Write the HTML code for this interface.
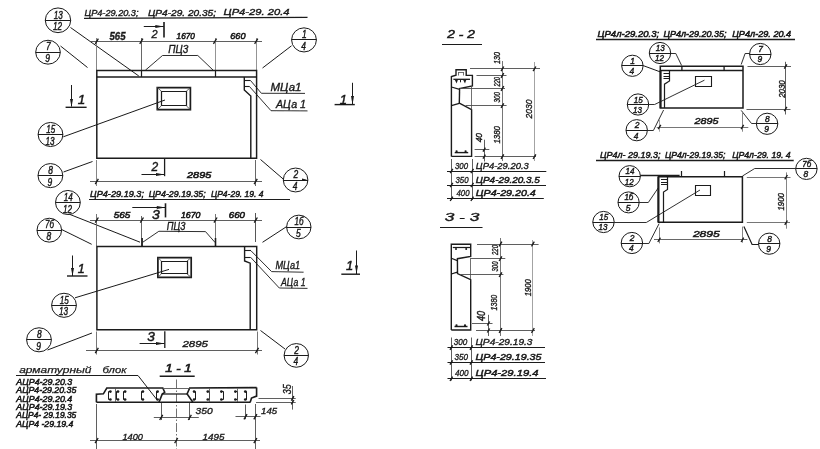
<!DOCTYPE html>
<html><head><meta charset="utf-8"><title>drawing</title>
<style>
html,body{margin:0;padding:0;background:#fff;}
svg{display:block;font-family:"Liberation Sans",sans-serif;font-style:italic;}
</style></head><body>
<svg width="820" height="449" viewBox="0 0 820 449">
<defs><filter id="b" x="0" y="0" width="820" height="449" filterUnits="userSpaceOnUse"><feGaussianBlur stdDeviation="0.45"/></filter></defs>
<rect width="820" height="449" fill="#fff"/>
<g filter="url(#b)">
<text x="84.5" y="16" font-size="8.3" text-anchor="start" font-weight="normal" fill="#1a1a1a" stroke="#1a1a1a" stroke-width="0.35" textLength="54" lengthAdjust="spacingAndGlyphs">ЦР4-29.20.3;</text>
<text x="148" y="15.5" font-size="9.2" text-anchor="start" font-weight="normal" fill="#1a1a1a" stroke="#1a1a1a" stroke-width="0.4" textLength="68" lengthAdjust="spacingAndGlyphs">ЦР4-29. 20.35;</text>
<text x="223.5" y="15.1" font-size="9.4" text-anchor="start" font-weight="normal" fill="#1a1a1a" stroke="#1a1a1a" stroke-width="0.4" textLength="66" lengthAdjust="spacingAndGlyphs">ЦР4-29. 20.4</text>
<line x1="84" y1="18.4" x2="307.5" y2="17.3" stroke="#1a1a1a" stroke-width="1.2"/>
<ellipse cx="58" cy="20.3" rx="12.700000000000001" ry="12.350000000000001" fill="none" stroke="#1a1a1a" stroke-width="1.0"/>
<line x1="45.2" y1="20.5" x2="70.8" y2="20.5" stroke="#1a1a1a" stroke-width="1.0"/>
<text x="53.8" y="18.5" font-size="11.2" text-anchor="start" font-weight="normal" fill="#1a1a1a" stroke="#1a1a1a" stroke-width="0.45" textLength="9.0" lengthAdjust="spacingAndGlyphs">13</text>
<text x="53.0" y="30.3" font-size="11.2" text-anchor="start" font-weight="normal" fill="#1a1a1a" stroke="#1a1a1a" stroke-width="0.45" textLength="9.0" lengthAdjust="spacingAndGlyphs">12</text>
<ellipse cx="48" cy="52.2" rx="12.3" ry="11.950000000000001" fill="none" stroke="#1a1a1a" stroke-width="1.0"/>
<line x1="35.6" y1="52.5" x2="60.4" y2="52.5" stroke="#1a1a1a" stroke-width="1.0"/>
<text x="45.949999999999996" y="50.400000000000006" font-size="11.2" text-anchor="start" font-weight="normal" fill="#1a1a1a" stroke="#1a1a1a" stroke-width="0.45" textLength="4.7" lengthAdjust="spacingAndGlyphs">7</text>
<text x="45.15" y="62.2" font-size="11.2" text-anchor="start" font-weight="normal" fill="#1a1a1a" stroke="#1a1a1a" stroke-width="0.45" textLength="4.7" lengthAdjust="spacingAndGlyphs">9</text>
<ellipse cx="304" cy="39.9" rx="12.4" ry="12.05" fill="none" stroke="#1a1a1a" stroke-width="1.0"/>
<line x1="291.5" y1="39.5" x2="316.5" y2="39.5" stroke="#1a1a1a" stroke-width="1.0"/>
<text x="301.95" y="38.1" font-size="11.2" text-anchor="start" font-weight="normal" fill="#1a1a1a" stroke="#1a1a1a" stroke-width="0.45" textLength="4.7" lengthAdjust="spacingAndGlyphs">1</text>
<text x="301.15" y="49.9" font-size="11.2" text-anchor="start" font-weight="normal" fill="#1a1a1a" stroke="#1a1a1a" stroke-width="0.45" textLength="4.7" lengthAdjust="spacingAndGlyphs">4</text>
<ellipse cx="50.5" cy="134.5" rx="12.4" ry="12.05" fill="none" stroke="#1a1a1a" stroke-width="1.0"/>
<line x1="38.0" y1="134.5" x2="63.0" y2="134.5" stroke="#1a1a1a" stroke-width="1.0"/>
<text x="46.3" y="132.7" font-size="11.2" text-anchor="start" font-weight="normal" fill="#1a1a1a" stroke="#1a1a1a" stroke-width="0.45" textLength="9.0" lengthAdjust="spacingAndGlyphs">15</text>
<text x="45.5" y="144.5" font-size="11.2" text-anchor="start" font-weight="normal" fill="#1a1a1a" stroke="#1a1a1a" stroke-width="0.45" textLength="9.0" lengthAdjust="spacingAndGlyphs">13</text>
<ellipse cx="50.4" cy="175.6" rx="12.4" ry="12.05" fill="none" stroke="#1a1a1a" stroke-width="1.0"/>
<line x1="37.9" y1="175.5" x2="62.9" y2="175.5" stroke="#1a1a1a" stroke-width="1.0"/>
<text x="48.349999999999994" y="173.79999999999998" font-size="11.2" text-anchor="start" font-weight="normal" fill="#1a1a1a" stroke="#1a1a1a" stroke-width="0.45" textLength="4.7" lengthAdjust="spacingAndGlyphs">8</text>
<text x="47.55" y="185.6" font-size="11.2" text-anchor="start" font-weight="normal" fill="#1a1a1a" stroke="#1a1a1a" stroke-width="0.45" textLength="4.7" lengthAdjust="spacingAndGlyphs">9</text>
<ellipse cx="295.6" cy="180" rx="12.3" ry="11.950000000000001" fill="none" stroke="#1a1a1a" stroke-width="1.0"/>
<line x1="283.20000000000005" y1="180.5" x2="308.0" y2="180.5" stroke="#1a1a1a" stroke-width="1.0"/>
<text x="293.55" y="178.2" font-size="11.2" text-anchor="start" font-weight="normal" fill="#1a1a1a" stroke="#1a1a1a" stroke-width="0.45" textLength="4.7" lengthAdjust="spacingAndGlyphs">2</text>
<text x="292.75" y="190" font-size="11.2" text-anchor="start" font-weight="normal" fill="#1a1a1a" stroke="#1a1a1a" stroke-width="0.45" textLength="4.7" lengthAdjust="spacingAndGlyphs">4</text>
<polygon points="307,179.8 302,178.60000000000002 302,181.0" fill="#1a1a1a"/>
<line x1="70.5" y1="27.5" x2="138.8" y2="76" stroke="#1a1a1a" stroke-width="1.0"/>
<line x1="60.5" y1="46" x2="87.5" y2="67.5" stroke="#1a1a1a" stroke-width="1.0"/>
<line x1="291.5" y1="45.8" x2="262.5" y2="68" stroke="#1a1a1a" stroke-width="1.0"/>
<line x1="63.3" y1="136.8" x2="165" y2="100" stroke="#1a1a1a" stroke-width="1.0"/>
<line x1="63.5" y1="172" x2="92.5" y2="161.5" stroke="#1a1a1a" stroke-width="1.0"/>
<line x1="260.5" y1="159.5" x2="283.2" y2="179" stroke="#1a1a1a" stroke-width="1.0"/>
<line x1="91" y1="41.5" x2="262" y2="41.5" stroke="#4d4d4d" stroke-width="0.9"/>
<line x1="96.5" y1="38" x2="96.5" y2="70" stroke="#777" stroke-width="0.9"/>
<line x1="141.5" y1="38" x2="141.5" y2="70" stroke="#555" stroke-width="0.9"/>
<line x1="215.5" y1="38" x2="215.5" y2="70" stroke="#888" stroke-width="0.9"/>
<line x1="256.5" y1="38" x2="256.5" y2="70" stroke="#888" stroke-width="0.9"/>
<line x1="95.24" y1="43.800000000000004" x2="98.36" y2="38.6" stroke="#1a1a1a" stroke-width="1.3"/>
<line x1="139.74" y1="43.800000000000004" x2="142.86" y2="38.6" stroke="#1a1a1a" stroke-width="1.3"/>
<line x1="213.44" y1="43.800000000000004" x2="216.56" y2="38.6" stroke="#1a1a1a" stroke-width="1.3"/>
<line x1="254.64" y1="43.800000000000004" x2="257.76" y2="38.6" stroke="#1a1a1a" stroke-width="1.3"/>
<text x="117.5" y="40" font-size="10.5" text-anchor="middle" font-weight="bold" fill="#1a1a1a" stroke="#1a1a1a" stroke-width="0.35" textLength="16" lengthAdjust="spacingAndGlyphs">565</text>
<text x="176.6" y="39.4" font-size="9.4" text-anchor="start" font-weight="normal" fill="#1a1a1a" stroke="#1a1a1a" stroke-width="0.6" textLength="18.2" lengthAdjust="spacingAndGlyphs">1670</text>
<text x="230.2" y="39.4" font-size="9.8" text-anchor="start" font-weight="normal" fill="#1a1a1a" stroke="#1a1a1a" stroke-width="0.6" textLength="15.3" lengthAdjust="spacingAndGlyphs">660</text>
<line x1="143.8" y1="26.5" x2="163.8" y2="26.5" stroke="#1a1a1a" stroke-width="1.0"/>
<polygon points="163.8,26.5 155.3,25.1 155.3,27.9" fill="#1a1a1a"/>
<line x1="164" y1="22" x2="164" y2="37.5" stroke="#1a1a1a" stroke-width="1.6"/>
<text x="154.5" y="37.5" font-size="11" text-anchor="middle" font-weight="normal" fill="#1a1a1a" stroke="#1a1a1a" stroke-width="0.35">2</text>
<text x="168.3" y="53.2" font-size="10.5" text-anchor="start" font-weight="normal" fill="#1a1a1a" stroke="#1a1a1a" stroke-width="0.35" textLength="20" lengthAdjust="spacingAndGlyphs">ПЦ3</text>
<polyline points="145.3,70.3 162.5,55.5 197.8,55.5 213.5,70.5" fill="none" stroke="#1a1a1a" stroke-width="0.9" stroke-linejoin="miter"/>
<polygon points="96.8,70.5 256.6,70.5 256.6,158.2 96.8,158.2" fill="none" stroke="#1a1a1a" stroke-width="1.45" stroke-linejoin="miter"/>
<line x1="96.8" y1="77" x2="256.6" y2="77" stroke="#1a1a1a" stroke-width="1.45"/>
<line x1="141.5" y1="71" x2="141.5" y2="77" stroke="#1a1a1a" stroke-width="1.2"/>
<line x1="215.5" y1="71" x2="215.5" y2="77" stroke="#1a1a1a" stroke-width="1.2"/>
<polyline points="244.3,77 244.3,90 250.8,96 250.8,158" fill="none" stroke="#1a1a1a" stroke-width="1.4" stroke-linejoin="miter"/>
<line x1="244.3" y1="80.5" x2="250.5" y2="80.5" stroke="#1a1a1a" stroke-width="1.1"/>
<line x1="244.3" y1="86.5" x2="249.2" y2="86.5" stroke="#1a1a1a" stroke-width="1.1"/>
<polyline points="250.5,80.5 261.4,93.3 305,93.4" fill="none" stroke="#1a1a1a" stroke-width="0.9" stroke-linejoin="miter"/>
<polyline points="249.2,86.2 271,110.7 307.5,110.9" fill="none" stroke="#1a1a1a" stroke-width="0.9" stroke-linejoin="miter"/>
<text x="270.5" y="90.8" font-size="10.5" text-anchor="start" font-weight="normal" fill="#1a1a1a" stroke="#1a1a1a" stroke-width="0.35" textLength="31" lengthAdjust="spacingAndGlyphs">МЦа1</text>
<text x="276" y="107.8" font-size="10.5" text-anchor="start" font-weight="normal" fill="#1a1a1a" stroke="#1a1a1a" stroke-width="0.35" textLength="30" lengthAdjust="spacingAndGlyphs">АЦа 1</text>
<polygon points="157.3,87.6 190.4,87.6 190.4,109.7 157.3,109.7" fill="none" stroke="#1a1a1a" stroke-width="1.7" stroke-linejoin="miter"/>
<polygon points="161.5,91.5 186.5,91.5 186.5,105.5 161.5,105.5" fill="none" stroke="#1a1a1a" stroke-width="1.2" stroke-linejoin="miter"/>
<line x1="157.3" y1="87.6" x2="161.4" y2="91.2" stroke="#4d4d4d" stroke-width="0.9"/>
<line x1="190.4" y1="87.6" x2="186.3" y2="91.2" stroke="#4d4d4d" stroke-width="0.9"/>
<line x1="190.4" y1="109.7" x2="186.3" y2="105.8" stroke="#4d4d4d" stroke-width="0.9"/>
<line x1="157.3" y1="109.7" x2="161.4" y2="105.8" stroke="#4d4d4d" stroke-width="0.9"/>
<line x1="71.5" y1="85" x2="71.5" y2="106.5" stroke="#1a1a1a" stroke-width="1.0"/>
<polygon points="71.5,107 70.0,99 73.0,99" fill="#1a1a1a"/>
<line x1="65.6" y1="107.3" x2="86.6" y2="107.3" stroke="#1a1a1a" stroke-width="1.4"/>
<text x="81.6" y="104.4" font-size="13.5" text-anchor="middle" font-weight="normal" fill="#1a1a1a" stroke="#1a1a1a" stroke-width="0.5">1</text>
<line x1="352.5" y1="82.8" x2="352.5" y2="104.6" stroke="#1a1a1a" stroke-width="1.0"/>
<polygon points="352.5,104.6 351.0,96.1 354.0,96.1" fill="#1a1a1a"/>
<line x1="334.6" y1="104.6" x2="354.8" y2="104.6" stroke="#1a1a1a" stroke-width="1.4"/>
<text x="343.3" y="103.5" font-size="13" text-anchor="middle" font-weight="normal" fill="#1a1a1a" stroke="#1a1a1a" stroke-width="0.5">1</text>
<line x1="96.5" y1="160" x2="96.5" y2="186" stroke="#777" stroke-width="0.9"/>
<line x1="255.5" y1="160" x2="255.5" y2="186" stroke="#555" stroke-width="0.9"/>
<line x1="90" y1="181.5" x2="262" y2="181.5" stroke="#4d4d4d" stroke-width="0.9"/>
<line x1="95.24" y1="184.1" x2="98.36" y2="178.9" stroke="#1a1a1a" stroke-width="1.3"/>
<line x1="254.14" y1="184.1" x2="257.26" y2="178.9" stroke="#1a1a1a" stroke-width="1.3"/>
<text x="187" y="177.9" font-size="9.4" text-anchor="start" font-weight="normal" fill="#1a1a1a" stroke="#1a1a1a" stroke-width="0.6" textLength="24.3" lengthAdjust="spacingAndGlyphs">2895</text>
<line x1="141.5" y1="174.5" x2="164" y2="174.5" stroke="#1a1a1a" stroke-width="1.0"/>
<polygon points="164.5,174.5 156.0,173.1 156.0,175.9" fill="#1a1a1a"/>
<line x1="164.6" y1="159" x2="164.6" y2="176.2" stroke="#1a1a1a" stroke-width="1.3"/>
<text x="154.8" y="170.8" font-size="12" text-anchor="middle" font-weight="normal" fill="#1a1a1a" stroke="#1a1a1a" stroke-width="0.4">2</text>
<text x="90" y="197.2" font-size="9.2" text-anchor="start" font-weight="normal" fill="#1a1a1a" stroke="#1a1a1a" stroke-width="0.5" textLength="54" lengthAdjust="spacingAndGlyphs">ЦР4-29.19.3;</text>
<text x="148.7" y="197.2" font-size="9.2" text-anchor="start" font-weight="normal" fill="#1a1a1a" stroke="#1a1a1a" stroke-width="0.5" textLength="57" lengthAdjust="spacingAndGlyphs">ЦР4-29.19.35;</text>
<text x="211" y="197.2" font-size="9.2" text-anchor="start" font-weight="normal" fill="#1a1a1a" stroke="#1a1a1a" stroke-width="0.5" textLength="52.5" lengthAdjust="spacingAndGlyphs">ЦР4-29. 19. 4</text>
<line x1="89" y1="199.5" x2="290" y2="199.5" stroke="#1a1a1a" stroke-width="1.2"/>
<ellipse cx="67.9" cy="202.5" rx="12.4" ry="12.05" fill="none" stroke="#1a1a1a" stroke-width="1.0"/>
<line x1="55.400000000000006" y1="202.5" x2="80.4" y2="202.5" stroke="#1a1a1a" stroke-width="1.0"/>
<text x="63.7" y="200.7" font-size="11.2" text-anchor="start" font-weight="normal" fill="#1a1a1a" stroke="#1a1a1a" stroke-width="0.45" textLength="9.0" lengthAdjust="spacingAndGlyphs">14</text>
<text x="62.900000000000006" y="212.5" font-size="11.2" text-anchor="start" font-weight="normal" fill="#1a1a1a" stroke="#1a1a1a" stroke-width="0.45" textLength="9.0" lengthAdjust="spacingAndGlyphs">12</text>
<ellipse cx="49.3" cy="230.2" rx="12.3" ry="11.950000000000001" fill="none" stroke="#1a1a1a" stroke-width="1.0"/>
<line x1="36.9" y1="230.5" x2="61.699999999999996" y2="230.5" stroke="#1a1a1a" stroke-width="1.0"/>
<text x="45.099999999999994" y="228.39999999999998" font-size="11.2" text-anchor="start" font-weight="normal" fill="#1a1a1a" stroke="#1a1a1a" stroke-width="0.45" textLength="9.0" lengthAdjust="spacingAndGlyphs">7б</text>
<text x="46.449999999999996" y="240.2" font-size="11.2" text-anchor="start" font-weight="normal" fill="#1a1a1a" stroke="#1a1a1a" stroke-width="0.45" textLength="4.7" lengthAdjust="spacingAndGlyphs">8</text>
<ellipse cx="298.8" cy="227" rx="12.200000000000001" ry="11.850000000000001" fill="none" stroke="#1a1a1a" stroke-width="1.0"/>
<line x1="286.5" y1="227.5" x2="311.1" y2="227.5" stroke="#1a1a1a" stroke-width="1.0"/>
<text x="294.6" y="225.2" font-size="11.2" text-anchor="start" font-weight="normal" fill="#1a1a1a" stroke="#1a1a1a" stroke-width="0.45" textLength="9.0" lengthAdjust="spacingAndGlyphs">1б</text>
<text x="295.95" y="237" font-size="11.2" text-anchor="start" font-weight="normal" fill="#1a1a1a" stroke="#1a1a1a" stroke-width="0.45" textLength="4.7" lengthAdjust="spacingAndGlyphs">5</text>
<ellipse cx="64" cy="305.3" rx="12.4" ry="12.05" fill="none" stroke="#1a1a1a" stroke-width="1.0"/>
<line x1="51.5" y1="305.5" x2="76.5" y2="305.5" stroke="#1a1a1a" stroke-width="1.0"/>
<text x="59.8" y="303.5" font-size="11.2" text-anchor="start" font-weight="normal" fill="#1a1a1a" stroke="#1a1a1a" stroke-width="0.45" textLength="9.0" lengthAdjust="spacingAndGlyphs">15</text>
<text x="59.0" y="315.3" font-size="11.2" text-anchor="start" font-weight="normal" fill="#1a1a1a" stroke="#1a1a1a" stroke-width="0.45" textLength="9.0" lengthAdjust="spacingAndGlyphs">13</text>
<ellipse cx="39" cy="339.8" rx="12.4" ry="12.05" fill="none" stroke="#1a1a1a" stroke-width="1.0"/>
<line x1="26.5" y1="339.5" x2="51.5" y2="339.5" stroke="#1a1a1a" stroke-width="1.0"/>
<text x="36.949999999999996" y="338.0" font-size="11.2" text-anchor="start" font-weight="normal" fill="#1a1a1a" stroke="#1a1a1a" stroke-width="0.45" textLength="4.7" lengthAdjust="spacingAndGlyphs">8</text>
<text x="36.15" y="349.8" font-size="11.2" text-anchor="start" font-weight="normal" fill="#1a1a1a" stroke="#1a1a1a" stroke-width="0.45" textLength="4.7" lengthAdjust="spacingAndGlyphs">9</text>
<ellipse cx="296.3" cy="355.4" rx="12.200000000000001" ry="11.850000000000001" fill="none" stroke="#1a1a1a" stroke-width="1.0"/>
<line x1="284.0" y1="355.5" x2="308.6" y2="355.5" stroke="#1a1a1a" stroke-width="1.0"/>
<text x="294.25" y="353.59999999999997" font-size="11.2" text-anchor="start" font-weight="normal" fill="#1a1a1a" stroke="#1a1a1a" stroke-width="0.45" textLength="4.7" lengthAdjust="spacingAndGlyphs">2</text>
<text x="293.45" y="365.4" font-size="11.2" text-anchor="start" font-weight="normal" fill="#1a1a1a" stroke="#1a1a1a" stroke-width="0.45" textLength="4.7" lengthAdjust="spacingAndGlyphs">4</text>
<line x1="69.3" y1="214.2" x2="140" y2="242.2" stroke="#1a1a1a" stroke-width="1.0"/>
<line x1="61.8" y1="229.6" x2="91.7" y2="244.3" stroke="#1a1a1a" stroke-width="1.0"/>
<line x1="286.3" y1="226.8" x2="262.5" y2="242.3" stroke="#1a1a1a" stroke-width="1.0"/>
<line x1="75" y1="297.8" x2="169" y2="269.4" stroke="#1a1a1a" stroke-width="1.0"/>
<line x1="47.5" y1="350" x2="92" y2="333" stroke="#1a1a1a" stroke-width="1.0"/>
<line x1="260.5" y1="330.5" x2="285" y2="349" stroke="#1a1a1a" stroke-width="1.0"/>
<line x1="90" y1="220.5" x2="262" y2="220.5" stroke="#4d4d4d" stroke-width="0.9"/>
<line x1="96.5" y1="214" x2="96.5" y2="246" stroke="#666" stroke-width="0.9"/>
<line x1="141.5" y1="216" x2="141.5" y2="246" stroke="#555" stroke-width="0.9"/>
<line x1="215.5" y1="214" x2="215.5" y2="246" stroke="#666" stroke-width="0.9"/>
<line x1="255.5" y1="213" x2="255.5" y2="242" stroke="#444" stroke-width="0.9"/>
<line x1="142.1" y1="238" x2="142.1" y2="246" stroke="#1a1a1a" stroke-width="1.6"/>
<line x1="215.5" y1="238" x2="215.5" y2="246" stroke="#1a1a1a" stroke-width="1.6"/>
<line x1="95.24" y1="222.7" x2="98.36" y2="217.5" stroke="#1a1a1a" stroke-width="1.3"/>
<line x1="140.34" y1="222.7" x2="143.46" y2="217.5" stroke="#1a1a1a" stroke-width="1.3"/>
<line x1="213.94" y1="222.7" x2="217.06" y2="217.5" stroke="#1a1a1a" stroke-width="1.3"/>
<line x1="254.24" y1="222.7" x2="257.36" y2="217.5" stroke="#1a1a1a" stroke-width="1.3"/>
<text x="113.7" y="218.3" font-size="9.5" text-anchor="start" font-weight="normal" fill="#1a1a1a" stroke="#1a1a1a" stroke-width="0.6" textLength="16.6" lengthAdjust="spacingAndGlyphs">565</text>
<text x="180.9" y="218.4" font-size="8.9" text-anchor="start" font-weight="normal" fill="#1a1a1a" stroke="#1a1a1a" stroke-width="0.6" textLength="19.5" lengthAdjust="spacingAndGlyphs">1670</text>
<text x="228.8" y="218" font-size="9.2" text-anchor="start" font-weight="normal" fill="#1a1a1a" stroke="#1a1a1a" stroke-width="0.6" textLength="16.2" lengthAdjust="spacingAndGlyphs">660</text>
<line x1="132.3" y1="207.5" x2="165.5" y2="207.5" stroke="#1a1a1a" stroke-width="1.0"/>
<polygon points="165.3,207.5 156.8,206.1 156.8,208.9" fill="#1a1a1a"/>
<line x1="165.5" y1="203.3" x2="165.5" y2="217.4" stroke="#1a1a1a" stroke-width="1.6"/>
<text x="152" y="218.7" font-size="12.3" text-anchor="start" font-weight="normal" fill="#1a1a1a" stroke="#1a1a1a" stroke-width="0.45" textLength="7.8" lengthAdjust="spacingAndGlyphs">3</text>
<text x="166.8" y="229.7" font-size="10.3" text-anchor="start" font-weight="normal" fill="#1a1a1a" stroke="#1a1a1a" stroke-width="0.35" textLength="18.6" lengthAdjust="spacingAndGlyphs">ПЦ3</text>
<polyline points="142.8,242.2 158.8,231.3 205.5,231.6 215.1,242.5" fill="none" stroke="#1a1a1a" stroke-width="0.9" stroke-linejoin="miter"/>
<polygon points="96.9,246.4 256.7,246.4 256.7,329.8 96.9,329.8" fill="none" stroke="#1a1a1a" stroke-width="1.45" stroke-linejoin="miter"/>
<polyline points="244.6,246.4 244.6,261 250.2,263.2 250.2,329.8" fill="none" stroke="#1a1a1a" stroke-width="1.4" stroke-linejoin="miter"/>
<line x1="244.5" y1="250.5" x2="251" y2="250.5" stroke="#1a1a1a" stroke-width="1.1"/>
<line x1="244.5" y1="257.5" x2="250.5" y2="257.5" stroke="#1a1a1a" stroke-width="1.1"/>
<polyline points="251,250.8 271.6,271.6 303.6,272.2" fill="none" stroke="#1a1a1a" stroke-width="0.9" stroke-linejoin="miter"/>
<polyline points="250.5,257.2 279.3,288 307.5,288.4" fill="none" stroke="#1a1a1a" stroke-width="0.9" stroke-linejoin="miter"/>
<text x="275.5" y="269.1" font-size="10.5" text-anchor="start" font-weight="normal" fill="#1a1a1a" stroke="#1a1a1a" stroke-width="0.35" textLength="24.7" lengthAdjust="spacingAndGlyphs">МЦа1</text>
<text x="281" y="285.7" font-size="10.5" text-anchor="start" font-weight="normal" fill="#1a1a1a" stroke="#1a1a1a" stroke-width="0.35" textLength="24.5" lengthAdjust="spacingAndGlyphs">АЦа 1</text>
<polygon points="157.9,257.7 191.2,257.7 191.2,277.3 157.9,277.3" fill="none" stroke="#1a1a1a" stroke-width="1.7" stroke-linejoin="miter"/>
<polygon points="161.5,261.5 187.5,261.5 187.5,273.5 161.5,273.5" fill="none" stroke="#1a1a1a" stroke-width="1.2" stroke-linejoin="miter"/>
<line x1="157.9" y1="257.7" x2="161.4" y2="261" stroke="#4d4d4d" stroke-width="0.9"/>
<line x1="191.2" y1="257.7" x2="187" y2="261" stroke="#4d4d4d" stroke-width="0.9"/>
<line x1="191.2" y1="277.3" x2="187" y2="273.9" stroke="#4d4d4d" stroke-width="0.9"/>
<line x1="157.9" y1="277.3" x2="161.4" y2="273.9" stroke="#4d4d4d" stroke-width="0.9"/>
<line x1="72.5" y1="255.5" x2="72.5" y2="276" stroke="#1a1a1a" stroke-width="1.0"/>
<polygon points="72.5,276 71.0,268 74.0,268" fill="#1a1a1a"/>
<line x1="67" y1="276" x2="87.5" y2="276" stroke="#1a1a1a" stroke-width="1.4"/>
<text x="81.3" y="272.8" font-size="12.5" text-anchor="middle" font-weight="normal" fill="#1a1a1a" stroke="#1a1a1a" stroke-width="0.5">1</text>
<line x1="356.5" y1="250.5" x2="356.5" y2="274" stroke="#1a1a1a" stroke-width="1.0"/>
<polygon points="356.5,274 355.0,265.5 358.0,265.5" fill="#1a1a1a"/>
<line x1="341.3" y1="274.2" x2="360" y2="274.2" stroke="#1a1a1a" stroke-width="1.4"/>
<text x="349.6" y="269.5" font-size="13" text-anchor="middle" font-weight="normal" fill="#1a1a1a" stroke="#1a1a1a" stroke-width="0.5">1</text>
<line x1="96.5" y1="331.5" x2="96.5" y2="354.5" stroke="#666" stroke-width="0.9"/>
<line x1="257.5" y1="331.5" x2="257.5" y2="354.5" stroke="#666" stroke-width="0.9"/>
<line x1="86" y1="350.5" x2="262" y2="350.5" stroke="#4d4d4d" stroke-width="0.9"/>
<line x1="95.24" y1="353.1" x2="98.36" y2="347.9" stroke="#1a1a1a" stroke-width="1.3"/>
<line x1="255.44" y1="353.1" x2="258.56" y2="347.9" stroke="#1a1a1a" stroke-width="1.3"/>
<text x="182.5" y="347" font-size="9.8" text-anchor="start" font-weight="normal" fill="#1a1a1a" stroke="#1a1a1a" stroke-width="0.4" textLength="25.5" lengthAdjust="spacingAndGlyphs">2895</text>
<line x1="139.6" y1="343.5" x2="164.5" y2="343.5" stroke="#1a1a1a" stroke-width="1.0"/>
<polygon points="164.5,343.5 156.0,342.1 156.0,344.9" fill="#1a1a1a"/>
<line x1="164.8" y1="331.3" x2="164.8" y2="347.9" stroke="#1a1a1a" stroke-width="1.3"/>
<text x="147.3" y="340.5" font-size="12.3" text-anchor="start" font-weight="normal" fill="#1a1a1a" stroke="#1a1a1a" stroke-width="0.45" textLength="7.6" lengthAdjust="spacingAndGlyphs">3</text>
<text x="19.2" y="373" font-size="9.6" text-anchor="start" font-weight="normal" fill="#1a1a1a" stroke="#1a1a1a" stroke-width="0.25" textLength="72.3" lengthAdjust="spacingAndGlyphs">арматурный</text>
<text x="102.5" y="373" font-size="9.6" text-anchor="start" font-weight="normal" fill="#1a1a1a" stroke="#1a1a1a" stroke-width="0.25" textLength="24" lengthAdjust="spacingAndGlyphs">блок</text>
<polyline points="16,375.5 138,375.5 156.6,399.3" fill="none" stroke="#1a1a1a" stroke-width="1.0" stroke-linejoin="miter"/>
<text x="16.3" y="384.5" font-size="9" text-anchor="start" font-weight="normal" fill="#1a1a1a" stroke="#1a1a1a" stroke-width="0.55" textLength="56" lengthAdjust="spacingAndGlyphs">АЦР4-29.20.3</text>
<text x="16.3" y="393.2" font-size="9" text-anchor="start" font-weight="normal" fill="#1a1a1a" stroke="#1a1a1a" stroke-width="0.55" textLength="60" lengthAdjust="spacingAndGlyphs">АЦР4-29.20.35</text>
<text x="16.3" y="401.5" font-size="9" text-anchor="start" font-weight="normal" fill="#1a1a1a" stroke="#1a1a1a" stroke-width="0.55" textLength="56" lengthAdjust="spacingAndGlyphs">АЦР4-29.20.4</text>
<text x="16.3" y="409.7" font-size="9" text-anchor="start" font-weight="normal" fill="#1a1a1a" stroke="#1a1a1a" stroke-width="0.55" textLength="56" lengthAdjust="spacingAndGlyphs">АЦР4-29.19.3</text>
<text x="16.3" y="418.3" font-size="9" text-anchor="start" font-weight="normal" fill="#1a1a1a" stroke="#1a1a1a" stroke-width="0.55" textLength="60" lengthAdjust="spacingAndGlyphs">АЦР4- 29.19.35</text>
<text x="16.3" y="427" font-size="9" text-anchor="start" font-weight="normal" fill="#1a1a1a" stroke="#1a1a1a" stroke-width="0.55" textLength="57" lengthAdjust="spacingAndGlyphs">АЦР4 -29.19.4</text>
<text x="165.2" y="371.9" font-size="10.8" text-anchor="start" font-weight="normal" fill="#1a1a1a" stroke="#1a1a1a" stroke-width="0.6" textLength="26.3" lengthAdjust="spacingAndGlyphs">1  -  1</text>
<line x1="159.7" y1="376.3" x2="194.7" y2="376.3" stroke="#1a1a1a" stroke-width="1.6"/>
<line x1="176.5" y1="379.5" x2="176.5" y2="449" stroke="#4d4d4d" stroke-width="0.8" stroke-dasharray="9 2 1.5 2"/>
<polyline points="96.4,402.2 96.4,394.3 103.4,393.8 106.8,388 162.8,388 164.7,392.3 162.2,394.1 159,402.2" fill="none" stroke="#1a1a1a" stroke-width="1.6" stroke-linejoin="miter"/>
<line x1="96.4" y1="402.2" x2="250.5" y2="402.2" stroke="#1a1a1a" stroke-width="1.6"/>
<line x1="162.2" y1="394" x2="187.1" y2="394" stroke="#1a1a1a" stroke-width="1.3"/>
<polyline points="256.6,387.6 189.7,388 187.1,394 192.9,402.2" fill="none" stroke="#1a1a1a" stroke-width="1.6" stroke-linejoin="miter"/>
<polyline points="256.6,387.6 256.6,396.1 251.5,398 250.2,402.2" fill="none" stroke="#1a1a1a" stroke-width="1.6" stroke-linejoin="miter"/>
<line x1="162.8" y1="388.5" x2="189.7" y2="388.5" stroke="#555" stroke-width="0.9"/>
<polyline points="110.39999999999999,391.5 108.5,391.5 108.5,399.5 110.39999999999999,399.5" fill="none" stroke="#1a1a1a" stroke-width="1.0" stroke-linejoin="miter"/>
<circle cx="110.39999999999999" cy="391.6" r="1.35" fill="#1a1a1a"/><circle cx="110.39999999999999" cy="399.5" r="1.35" fill="#1a1a1a"/>
<polyline points="118.0,391.5 116.5,391.5 116.5,399.5 118.0,399.5" fill="none" stroke="#1a1a1a" stroke-width="1.0" stroke-linejoin="miter"/>
<circle cx="118.0" cy="391.6" r="1.35" fill="#1a1a1a"/><circle cx="118.0" cy="399.5" r="1.35" fill="#1a1a1a"/>
<polyline points="125.1,391.5 123.5,391.5 123.5,399.5 125.1,399.5" fill="none" stroke="#1a1a1a" stroke-width="1.0" stroke-linejoin="miter"/>
<circle cx="125.1" cy="391.6" r="1.35" fill="#1a1a1a"/><circle cx="125.1" cy="399.5" r="1.35" fill="#1a1a1a"/>
<polyline points="142.9,391.5 141.5,391.5 141.5,399.5 142.9,399.5" fill="none" stroke="#1a1a1a" stroke-width="1.0" stroke-linejoin="miter"/>
<circle cx="142.9" cy="391.6" r="1.35" fill="#1a1a1a"/><circle cx="142.9" cy="399.5" r="1.35" fill="#1a1a1a"/>
<polyline points="157.6,391.5 156.5,391.5 156.5,399.5 157.6,399.5" fill="none" stroke="#1a1a1a" stroke-width="1.0" stroke-linejoin="miter"/>
<circle cx="157.6" cy="391.6" r="1.35" fill="#1a1a1a"/><circle cx="157.6" cy="399.5" r="1.35" fill="#1a1a1a"/>
<polyline points="194.1,391.5 195.5,391.5 195.5,399.5 194.1,399.5" fill="none" stroke="#1a1a1a" stroke-width="1.0" stroke-linejoin="miter"/>
<circle cx="194.1" cy="391.6" r="1.35" fill="#1a1a1a"/><circle cx="194.1" cy="399.5" r="1.35" fill="#1a1a1a"/>
<polyline points="207.8,391.5 209.5,391.5 209.5,399.5 207.8,399.5" fill="none" stroke="#1a1a1a" stroke-width="1.0" stroke-linejoin="miter"/>
<circle cx="207.8" cy="391.6" r="1.35" fill="#1a1a1a"/><circle cx="207.8" cy="399.5" r="1.35" fill="#1a1a1a"/>
<polyline points="221.4,391.5 223.5,391.5 223.5,399.5 221.4,399.5" fill="none" stroke="#1a1a1a" stroke-width="1.0" stroke-linejoin="miter"/>
<circle cx="221.4" cy="391.6" r="1.35" fill="#1a1a1a"/><circle cx="221.4" cy="399.5" r="1.35" fill="#1a1a1a"/>
<polyline points="235.4,391.5 237.5,391.5 237.5,399.5 235.4,399.5" fill="none" stroke="#1a1a1a" stroke-width="1.0" stroke-linejoin="miter"/>
<circle cx="235.4" cy="391.6" r="1.35" fill="#1a1a1a"/><circle cx="235.4" cy="399.5" r="1.35" fill="#1a1a1a"/>
<polyline points="245.3,391.5 246.5,391.5 246.5,399.5 245.3,399.5" fill="none" stroke="#1a1a1a" stroke-width="1.0" stroke-linejoin="miter"/>
<circle cx="245.3" cy="391.6" r="1.35" fill="#1a1a1a"/><circle cx="245.3" cy="399.5" r="1.35" fill="#1a1a1a"/>
<line x1="115.5" y1="388.5" x2="115.5" y2="402" stroke="#4d4d4d" stroke-width="0.8"/>
<line x1="209.5" y1="388.5" x2="209.5" y2="402" stroke="#4d4d4d" stroke-width="0.8"/>
<line x1="237.5" y1="388.5" x2="237.5" y2="402" stroke="#4d4d4d" stroke-width="0.8"/>
<line x1="161.5" y1="403" x2="161.5" y2="420" stroke="#4d4d4d" stroke-width="0.9"/>
<line x1="189.5" y1="403" x2="189.5" y2="420" stroke="#4d4d4d" stroke-width="0.9"/>
<line x1="153.8" y1="417.5" x2="198.8" y2="417.5" stroke="#4d4d4d" stroke-width="0.9"/>
<line x1="159.64" y1="420.0" x2="162.76" y2="414.79999999999995" stroke="#1a1a1a" stroke-width="1.3"/>
<line x1="188.24" y1="420.0" x2="191.36" y2="414.79999999999995" stroke="#1a1a1a" stroke-width="1.3"/>
<text x="195.5" y="414" font-size="9" text-anchor="start" font-weight="normal" fill="#1a1a1a" stroke="#1a1a1a" stroke-width="0.35" textLength="17.2" lengthAdjust="spacingAndGlyphs">350</text>
<line x1="245.5" y1="404.5" x2="245.5" y2="419.2" stroke="#4d4d4d" stroke-width="0.9"/>
<line x1="255.5" y1="404" x2="255.5" y2="449" stroke="#4d4d4d" stroke-width="0.9"/>
<line x1="235.5" y1="416.5" x2="260.5" y2="416.5" stroke="#4d4d4d" stroke-width="0.9"/>
<line x1="243.94" y1="419.40000000000003" x2="247.06" y2="414.2" stroke="#1a1a1a" stroke-width="1.3"/>
<line x1="253.84" y1="419.40000000000003" x2="256.96" y2="414.2" stroke="#1a1a1a" stroke-width="1.3"/>
<text x="261.1" y="414" font-size="8.8" text-anchor="start" font-weight="normal" fill="#1a1a1a" stroke="#1a1a1a" stroke-width="0.35" textLength="16" lengthAdjust="spacingAndGlyphs">145</text>
<line x1="96.5" y1="404" x2="96.5" y2="449" stroke="#4d4d4d" stroke-width="0.9"/>
<line x1="90" y1="440.5" x2="260" y2="440.5" stroke="#4d4d4d" stroke-width="0.9"/>
<line x1="95.03999999999999" y1="443.20000000000005" x2="98.16" y2="438.0" stroke="#1a1a1a" stroke-width="1.3"/>
<line x1="174.64" y1="443.20000000000005" x2="177.76" y2="438.0" stroke="#1a1a1a" stroke-width="1.3"/>
<line x1="253.84" y1="443.20000000000005" x2="256.96" y2="438.0" stroke="#1a1a1a" stroke-width="1.3"/>
<text x="122.5" y="439.5" font-size="9.5" text-anchor="start" font-weight="normal" fill="#1a1a1a" stroke="#1a1a1a" stroke-width="0.35" textLength="20.5" lengthAdjust="spacingAndGlyphs">1400</text>
<text x="202.5" y="439.5" font-size="9.5" text-anchor="start" font-weight="normal" fill="#1a1a1a" stroke="#1a1a1a" stroke-width="0.35" textLength="22" lengthAdjust="spacingAndGlyphs">1495</text>
<line x1="258.5" y1="398.5" x2="295.7" y2="398.5" stroke="#4d4d4d" stroke-width="0.9"/>
<line x1="256" y1="402.5" x2="295.7" y2="402.5" stroke="#4d4d4d" stroke-width="0.9"/>
<line x1="292.5" y1="386" x2="292.5" y2="409.6" stroke="#4d4d4d" stroke-width="0.9"/>
<line x1="291.28000000000003" y1="400.59999999999997" x2="293.92" y2="396.2" stroke="#1a1a1a" stroke-width="1.3"/>
<line x1="291.28000000000003" y1="404.4" x2="293.92" y2="400.0" stroke="#1a1a1a" stroke-width="1.3"/>
<text x="291.3" y="394.2" font-size="11" text-anchor="start" font-weight="normal" fill="#1a1a1a" stroke="#1a1a1a" stroke-width="0.35" textLength="10" lengthAdjust="spacingAndGlyphs" transform="rotate(-90 291.3 394.2)">35</text>
<text x="447.3" y="38" font-size="10.6" text-anchor="start" font-weight="normal" fill="#1a1a1a" stroke="#1a1a1a" stroke-width="0.5" textLength="27.5" lengthAdjust="spacingAndGlyphs">2  -  2</text>
<line x1="442" y1="44.5" x2="482" y2="44.5" stroke="#1a1a1a" stroke-width="1.2"/>
<polyline points="451.4,156.4 451.4,76.5 456,75.2 456,69.8 466.2,69.8 466.2,75.4 472.4,75.4 472.4,86 459.6,88.5 459.3,103.2 471.6,109.6 471.6,156.4 451.4,156.4" fill="none" stroke="#1a1a1a" stroke-width="1.4" stroke-linejoin="miter"/>
<line x1="451.4" y1="87" x2="459.6" y2="89.3" stroke="#1a1a1a" stroke-width="1.2"/>
<line x1="451.4" y1="105.6" x2="459.3" y2="103.4" stroke="#1a1a1a" stroke-width="1.2"/>
<line x1="471.5" y1="86" x2="471.5" y2="109.6" stroke="#4d4d4d" stroke-width="0.8"/>
<line x1="453.4" y1="79.3" x2="470" y2="79.3" stroke="#1a1a1a" stroke-width="1.3"/>
<polygon points="454.6,79.6 458,79.6 456.6,83.4" fill="#1a1a1a"/><polygon points="463,79.6 466.4,79.6 465,83.4" fill="#1a1a1a"/>
<line x1="460.5" y1="80" x2="460.5" y2="82.3" stroke="#1a1a1a" stroke-width="1"/>
<line x1="458.5" y1="72" x2="458.5" y2="75.5" stroke="#4d4d4d" stroke-width="0.8"/>
<line x1="463.5" y1="72" x2="463.5" y2="75.5" stroke="#4d4d4d" stroke-width="0.8"/>
<line x1="458.5" y1="72.5" x2="463.5" y2="72.5" stroke="#4d4d4d" stroke-width="0.8"/>
<line x1="454.7" y1="152.6" x2="468.2" y2="152.6" stroke="#1a1a1a" stroke-width="1.4"/>
<circle cx="456.6" cy="151.3" r="1.1" fill="#1a1a1a"/><circle cx="465.6" cy="151.3" r="1.1" fill="#1a1a1a"/>
<line x1="470" y1="68.5" x2="540" y2="68.5" stroke="#4d4d4d" stroke-width="0.9"/>
<line x1="476.5" y1="75.5" x2="506.5" y2="75.5" stroke="#4d4d4d" stroke-width="0.9"/>
<line x1="459.8" y1="88.5" x2="505" y2="88.5" stroke="#4d4d4d" stroke-width="0.9"/>
<line x1="465.6" y1="105.5" x2="506.6" y2="105.5" stroke="#4d4d4d" stroke-width="0.9"/>
<line x1="474.6" y1="156.5" x2="536" y2="156.5" stroke="#4d4d4d" stroke-width="0.9"/>
<line x1="502.5" y1="61" x2="502.5" y2="161" stroke="#666" stroke-width="0.9"/>
<line x1="534.5" y1="62" x2="534.5" y2="161" stroke="#999" stroke-width="0.9"/>
<line x1="501.02" y1="71.1" x2="503.78" y2="66.5" stroke="#1a1a1a" stroke-width="1.3"/>
<line x1="501.02" y1="77.8" x2="503.78" y2="73.2" stroke="#1a1a1a" stroke-width="1.3"/>
<line x1="501.02" y1="90.8" x2="503.78" y2="86.2" stroke="#1a1a1a" stroke-width="1.3"/>
<line x1="501.02" y1="107.89999999999999" x2="503.78" y2="103.3" stroke="#1a1a1a" stroke-width="1.3"/>
<line x1="501.02" y1="158.9" x2="503.78" y2="154.29999999999998" stroke="#1a1a1a" stroke-width="1.3"/>
<line x1="533.12" y1="71.1" x2="535.88" y2="66.5" stroke="#1a1a1a" stroke-width="1.3"/>
<line x1="533.12" y1="158.9" x2="535.88" y2="154.29999999999998" stroke="#1a1a1a" stroke-width="1.3"/>
<text x="500" y="64" font-size="8.5" text-anchor="start" font-weight="normal" fill="#1a1a1a" stroke="#1a1a1a" stroke-width="0.35" textLength="12" lengthAdjust="spacingAndGlyphs" transform="rotate(-90 500 64)">130</text>
<text x="499.5" y="86.5" font-size="8.5" text-anchor="start" font-weight="normal" fill="#1a1a1a" stroke="#1a1a1a" stroke-width="0.35" textLength="9.5" lengthAdjust="spacingAndGlyphs" transform="rotate(-90 499.5 86.5)">220</text>
<text x="499.5" y="102.5" font-size="8.5" text-anchor="start" font-weight="normal" fill="#1a1a1a" stroke="#1a1a1a" stroke-width="0.35" textLength="10.5" lengthAdjust="spacingAndGlyphs" transform="rotate(-90 499.5 102.5)">300</text>
<text x="500.3" y="143.5" font-size="9" text-anchor="start" font-weight="normal" fill="#1a1a1a" stroke="#1a1a1a" stroke-width="0.35" textLength="17.5" lengthAdjust="spacingAndGlyphs" transform="rotate(-90 500.3 143.5)">1380</text>
<text x="531.9" y="118.6" font-size="9" text-anchor="start" font-weight="normal" fill="#1a1a1a" stroke="#1a1a1a" stroke-width="0.35" textLength="19" lengthAdjust="spacingAndGlyphs" transform="rotate(-90 531.9 118.6)">2030</text>
<text x="482.2" y="142.3" font-size="9.3" text-anchor="start" font-weight="normal" fill="#1a1a1a" stroke="#1a1a1a" stroke-width="0.45" textLength="9.3" lengthAdjust="spacingAndGlyphs" transform="rotate(-90 482.2 142.3)">40</text>
<line x1="484.5" y1="139.7" x2="484.5" y2="161.5" stroke="#4d4d4d" stroke-width="0.9"/>
<line x1="474.6" y1="149.5" x2="489.3" y2="149.5" stroke="#4d4d4d" stroke-width="0.9"/>
<line x1="483.0" y1="151.7" x2="485.4" y2="147.7" stroke="#1a1a1a" stroke-width="1.3"/>
<line x1="483.0" y1="158.6" x2="485.4" y2="154.6" stroke="#1a1a1a" stroke-width="1.3"/>
<line x1="451.5" y1="159" x2="451.5" y2="200" stroke="#4d4d4d" stroke-width="0.9"/>
<line x1="472.5" y1="159" x2="472.5" y2="200" stroke="#4d4d4d" stroke-width="0.9"/>
<line x1="447" y1="171.5" x2="546.3" y2="171.5" stroke="#1a1a1a" stroke-width="1.2"/>
<line x1="447" y1="185.5" x2="546" y2="185.5" stroke="#1a1a1a" stroke-width="1.2"/>
<line x1="447" y1="198.5" x2="543.8" y2="198.5" stroke="#1a1a1a" stroke-width="1.2"/>
<line x1="450.18" y1="173.2" x2="452.82" y2="168.8" stroke="#1a1a1a" stroke-width="1.3"/>
<line x1="470.88" y1="173.2" x2="473.52" y2="168.8" stroke="#1a1a1a" stroke-width="1.3"/>
<line x1="450.18" y1="187.2" x2="452.82" y2="182.8" stroke="#1a1a1a" stroke-width="1.3"/>
<line x1="470.88" y1="187.2" x2="473.52" y2="182.8" stroke="#1a1a1a" stroke-width="1.3"/>
<line x1="450.18" y1="201.0" x2="452.82" y2="196.60000000000002" stroke="#1a1a1a" stroke-width="1.3"/>
<line x1="470.88" y1="201.0" x2="473.52" y2="196.60000000000002" stroke="#1a1a1a" stroke-width="1.3"/>
<text x="455" y="168.5" font-size="9" text-anchor="start" font-weight="normal" fill="#1a1a1a" stroke="#1a1a1a" stroke-width="0.35" textLength="13" lengthAdjust="spacingAndGlyphs">300</text>
<text x="455.5" y="182.5" font-size="9" text-anchor="start" font-weight="normal" fill="#1a1a1a" stroke="#1a1a1a" stroke-width="0.35" textLength="13" lengthAdjust="spacingAndGlyphs">350</text>
<text x="456.5" y="196.3" font-size="9" text-anchor="start" font-weight="normal" fill="#1a1a1a" stroke="#1a1a1a" stroke-width="0.35" textLength="13" lengthAdjust="spacingAndGlyphs">400</text>
<text x="475.8" y="168.5" font-size="9.2" text-anchor="start" font-weight="normal" fill="#1a1a1a" stroke="#1a1a1a" stroke-width="0.35" textLength="53" lengthAdjust="spacingAndGlyphs">ЦР4-29.20.3</text>
<text x="475.8" y="182.5" font-size="9.2" text-anchor="start" font-weight="normal" fill="#1a1a1a" stroke="#1a1a1a" stroke-width="0.5" textLength="64" lengthAdjust="spacingAndGlyphs">ЦР4-29.20.3.5</text>
<text x="475.8" y="196.3" font-size="9.2" text-anchor="start" font-weight="normal" fill="#1a1a1a" stroke="#1a1a1a" stroke-width="0.5" textLength="60" lengthAdjust="spacingAndGlyphs">ЦР4-29.20.4</text>
<text x="444.7" y="221.2" font-size="10.8" text-anchor="start" font-weight="normal" fill="#1a1a1a" stroke="#1a1a1a" stroke-width="0.35" textLength="34.6" lengthAdjust="spacingAndGlyphs">3  -  3</text>
<line x1="440" y1="227.5" x2="482.5" y2="227.5" stroke="#1a1a1a" stroke-width="1.2"/>
<polyline points="451.3,330 451.3,244.3 470.7,244.3 470.7,256.5 457.4,258.7 457.5,273.6 470.7,279.6 470.7,330 451.3,330" fill="none" stroke="#1a1a1a" stroke-width="1.4" stroke-linejoin="miter"/>
<line x1="451.3" y1="258.3" x2="457.4" y2="260.6" stroke="#1a1a1a" stroke-width="1.2"/>
<line x1="451.3" y1="274" x2="457.4" y2="272.1" stroke="#1a1a1a" stroke-width="1.2"/>
<line x1="470.5" y1="258" x2="470.5" y2="279" stroke="#4d4d4d" stroke-width="0.8"/>
<line x1="452.8" y1="247.5" x2="470" y2="247.5" stroke="#1a1a1a" stroke-width="1.2"/>
<circle cx="456" cy="249" r="1" fill="#1a1a1a"/><circle cx="466.2" cy="249" r="1" fill="#1a1a1a"/>
<line x1="454.5" y1="326.5" x2="467.5" y2="326.5" stroke="#1a1a1a" stroke-width="1.4"/>
<circle cx="456.5" cy="325.3" r="1.1" fill="#1a1a1a"/><circle cx="465" cy="325.3" r="1.1" fill="#1a1a1a"/>
<line x1="477" y1="244.5" x2="538.6" y2="244.5" stroke="#4d4d4d" stroke-width="0.9"/>
<line x1="470.7" y1="258.5" x2="505.3" y2="258.5" stroke="#4d4d4d" stroke-width="0.9"/>
<line x1="460.5" y1="274.5" x2="503.4" y2="274.5" stroke="#4d4d4d" stroke-width="0.9"/>
<line x1="476" y1="330.5" x2="535" y2="330.5" stroke="#4d4d4d" stroke-width="0.9"/>
<line x1="500.5" y1="238" x2="500.5" y2="336" stroke="#666" stroke-width="0.9"/>
<line x1="532.5" y1="240" x2="532.5" y2="336" stroke="#999" stroke-width="0.9"/>
<line x1="499.12" y1="246.3" x2="501.88" y2="241.7" stroke="#1a1a1a" stroke-width="1.3"/>
<line x1="499.12" y1="261.0" x2="501.88" y2="256.4" stroke="#1a1a1a" stroke-width="1.3"/>
<line x1="499.12" y1="277.0" x2="501.88" y2="272.4" stroke="#1a1a1a" stroke-width="1.3"/>
<line x1="499.12" y1="332.8" x2="501.88" y2="328.2" stroke="#1a1a1a" stroke-width="1.3"/>
<line x1="531.52" y1="246.3" x2="534.28" y2="241.7" stroke="#1a1a1a" stroke-width="1.3"/>
<line x1="531.52" y1="332.8" x2="534.28" y2="328.2" stroke="#1a1a1a" stroke-width="1.3"/>
<text x="498" y="255" font-size="8.5" text-anchor="start" font-weight="normal" fill="#1a1a1a" stroke="#1a1a1a" stroke-width="0.35" textLength="10" lengthAdjust="spacingAndGlyphs" transform="rotate(-90 498 255)">220</text>
<text x="498" y="271.5" font-size="8.5" text-anchor="start" font-weight="normal" fill="#1a1a1a" stroke="#1a1a1a" stroke-width="0.35" textLength="10" lengthAdjust="spacingAndGlyphs" transform="rotate(-90 498 271.5)">300</text>
<text x="496.8" y="310.4" font-size="9" text-anchor="start" font-weight="normal" fill="#1a1a1a" stroke="#1a1a1a" stroke-width="0.35" textLength="15.6" lengthAdjust="spacingAndGlyphs" transform="rotate(-90 496.8 310.4)">1380</text>
<text x="531.3" y="296.3" font-size="9" text-anchor="start" font-weight="normal" fill="#1a1a1a" stroke="#1a1a1a" stroke-width="0.35" textLength="17" lengthAdjust="spacingAndGlyphs" transform="rotate(-90 531.3 296.3)">1900</text>
<text x="485.3" y="321" font-size="10" text-anchor="start" font-weight="normal" fill="#1a1a1a" stroke="#1a1a1a" stroke-width="0.45" textLength="10" lengthAdjust="spacingAndGlyphs" transform="rotate(-90 485.3 321)">40</text>
<line x1="488.5" y1="314.8" x2="488.5" y2="336" stroke="#4d4d4d" stroke-width="0.9"/>
<line x1="472" y1="323.5" x2="492.5" y2="323.5" stroke="#4d4d4d" stroke-width="0.9"/>
<line x1="487.3" y1="325.5" x2="489.7" y2="321.5" stroke="#1a1a1a" stroke-width="1.3"/>
<line x1="487.3" y1="332.5" x2="489.7" y2="328.5" stroke="#1a1a1a" stroke-width="1.3"/>
<line x1="451.5" y1="337.5" x2="451.5" y2="380.5" stroke="#4d4d4d" stroke-width="0.9"/>
<line x1="471.5" y1="337.5" x2="471.5" y2="380.5" stroke="#4d4d4d" stroke-width="0.9"/>
<line x1="447.5" y1="347.5" x2="545" y2="347.5" stroke="#1a1a1a" stroke-width="1.1"/>
<line x1="447.5" y1="362.5" x2="545" y2="362.5" stroke="#1a1a1a" stroke-width="1.1"/>
<line x1="447.5" y1="378.5" x2="546" y2="378.5" stroke="#1a1a1a" stroke-width="1.1"/>
<line x1="449.98" y1="349.8" x2="452.62" y2="345.40000000000003" stroke="#1a1a1a" stroke-width="1.3"/>
<line x1="469.98" y1="349.8" x2="472.62" y2="345.40000000000003" stroke="#1a1a1a" stroke-width="1.3"/>
<line x1="449.98" y1="364.7" x2="452.62" y2="360.3" stroke="#1a1a1a" stroke-width="1.3"/>
<line x1="469.98" y1="364.7" x2="472.62" y2="360.3" stroke="#1a1a1a" stroke-width="1.3"/>
<line x1="449.98" y1="381.0" x2="452.62" y2="376.6" stroke="#1a1a1a" stroke-width="1.3"/>
<line x1="469.98" y1="381.0" x2="472.62" y2="376.6" stroke="#1a1a1a" stroke-width="1.3"/>
<text x="453.8" y="345" font-size="9" text-anchor="start" font-weight="normal" fill="#1a1a1a" stroke="#1a1a1a" stroke-width="0.35" textLength="13.5" lengthAdjust="spacingAndGlyphs">300</text>
<text x="454.5" y="360" font-size="9" text-anchor="start" font-weight="normal" fill="#1a1a1a" stroke="#1a1a1a" stroke-width="0.35" textLength="13.5" lengthAdjust="spacingAndGlyphs">350</text>
<text x="455" y="376.3" font-size="9" text-anchor="start" font-weight="normal" fill="#1a1a1a" stroke="#1a1a1a" stroke-width="0.35" textLength="13.5" lengthAdjust="spacingAndGlyphs">400</text>
<text x="475.5" y="345" font-size="9.5" text-anchor="start" font-weight="normal" fill="#1a1a1a" stroke="#1a1a1a" stroke-width="0.35" textLength="57" lengthAdjust="spacingAndGlyphs">ЦР4-29.19.3</text>
<text x="475.5" y="360" font-size="9.5" text-anchor="start" font-weight="normal" fill="#1a1a1a" stroke="#1a1a1a" stroke-width="0.5" textLength="66" lengthAdjust="spacingAndGlyphs">ЦР4-29.19.35</text>
<text x="475.5" y="376.3" font-size="9.5" text-anchor="start" font-weight="normal" fill="#1a1a1a" stroke="#1a1a1a" stroke-width="0.5" textLength="63" lengthAdjust="spacingAndGlyphs">ЦР4-29.19.4</text>
<text x="597.6" y="36.5" font-size="9" text-anchor="start" font-weight="normal" fill="#1a1a1a" stroke="#1a1a1a" stroke-width="0.55" textLength="61.5" lengthAdjust="spacingAndGlyphs">ЦР4л-29.20.3;</text>
<text x="663.4" y="36.5" font-size="9" text-anchor="start" font-weight="normal" fill="#1a1a1a" stroke="#1a1a1a" stroke-width="0.55" textLength="63" lengthAdjust="spacingAndGlyphs">ЦР4л-29.20.35;</text>
<text x="732.2" y="36.5" font-size="9" text-anchor="start" font-weight="normal" fill="#1a1a1a" stroke="#1a1a1a" stroke-width="0.55" textLength="59" lengthAdjust="spacingAndGlyphs">ЦР4л-29. 20.4</text>
<line x1="596" y1="39.6" x2="795" y2="39.6" stroke="#1a1a1a" stroke-width="1.5"/>
<ellipse cx="660" cy="53" rx="10.700000000000001" ry="10.600000000000001" fill="none" stroke="#1a1a1a" stroke-width="1.0"/>
<line x1="649.2" y1="53.5" x2="670.8" y2="53.5" stroke="#1a1a1a" stroke-width="1.0"/>
<text x="655.8" y="51.0" font-size="9.5" text-anchor="start" font-weight="normal" fill="#1a1a1a" stroke="#1a1a1a" stroke-width="0.45" textLength="9.0" lengthAdjust="spacingAndGlyphs">13</text>
<text x="655.0" y="61.3" font-size="9.5" text-anchor="start" font-weight="normal" fill="#1a1a1a" stroke="#1a1a1a" stroke-width="0.45" textLength="9.0" lengthAdjust="spacingAndGlyphs">12</text>
<ellipse cx="632.4" cy="65.8" rx="10.700000000000001" ry="10.600000000000001" fill="none" stroke="#1a1a1a" stroke-width="1.0"/>
<line x1="621.6" y1="65.5" x2="643.1999999999999" y2="65.5" stroke="#1a1a1a" stroke-width="1.0"/>
<text x="630.3499999999999" y="63.8" font-size="9.5" text-anchor="start" font-weight="normal" fill="#1a1a1a" stroke="#1a1a1a" stroke-width="0.45" textLength="4.7" lengthAdjust="spacingAndGlyphs">1</text>
<text x="629.55" y="74.1" font-size="9.5" text-anchor="start" font-weight="normal" fill="#1a1a1a" stroke="#1a1a1a" stroke-width="0.45" textLength="4.7" lengthAdjust="spacingAndGlyphs">4</text>
<ellipse cx="760.3" cy="54" rx="10.700000000000001" ry="10.600000000000001" fill="none" stroke="#1a1a1a" stroke-width="1.0"/>
<line x1="749.5" y1="54.5" x2="771.0999999999999" y2="54.5" stroke="#1a1a1a" stroke-width="1.0"/>
<text x="758.2499999999999" y="52.0" font-size="9.5" text-anchor="start" font-weight="normal" fill="#1a1a1a" stroke="#1a1a1a" stroke-width="0.45" textLength="4.7" lengthAdjust="spacingAndGlyphs">7</text>
<text x="757.4499999999999" y="62.3" font-size="9.5" text-anchor="start" font-weight="normal" fill="#1a1a1a" stroke="#1a1a1a" stroke-width="0.45" textLength="4.7" lengthAdjust="spacingAndGlyphs">9</text>
<ellipse cx="638" cy="104.5" rx="10.700000000000001" ry="10.600000000000001" fill="none" stroke="#1a1a1a" stroke-width="1.0"/>
<line x1="627.2" y1="104.5" x2="648.8" y2="104.5" stroke="#1a1a1a" stroke-width="1.0"/>
<text x="633.8" y="102.5" font-size="9.5" text-anchor="start" font-weight="normal" fill="#1a1a1a" stroke="#1a1a1a" stroke-width="0.45" textLength="9.0" lengthAdjust="spacingAndGlyphs">15</text>
<text x="633.0" y="112.8" font-size="9.5" text-anchor="start" font-weight="normal" fill="#1a1a1a" stroke="#1a1a1a" stroke-width="0.45" textLength="9.0" lengthAdjust="spacingAndGlyphs">13</text>
<ellipse cx="636.7" cy="130.2" rx="10.700000000000001" ry="10.600000000000001" fill="none" stroke="#1a1a1a" stroke-width="1.0"/>
<line x1="625.9000000000001" y1="130.5" x2="647.5" y2="130.5" stroke="#1a1a1a" stroke-width="1.0"/>
<text x="634.65" y="128.2" font-size="9.5" text-anchor="start" font-weight="normal" fill="#1a1a1a" stroke="#1a1a1a" stroke-width="0.45" textLength="4.7" lengthAdjust="spacingAndGlyphs">2</text>
<text x="633.85" y="138.5" font-size="9.5" text-anchor="start" font-weight="normal" fill="#1a1a1a" stroke="#1a1a1a" stroke-width="0.45" textLength="4.7" lengthAdjust="spacingAndGlyphs">4</text>
<ellipse cx="767.1" cy="123.8" rx="10.700000000000001" ry="10.600000000000001" fill="none" stroke="#1a1a1a" stroke-width="1.0"/>
<line x1="756.3000000000001" y1="123.5" x2="777.9" y2="123.5" stroke="#1a1a1a" stroke-width="1.0"/>
<text x="765.05" y="121.8" font-size="9.5" text-anchor="start" font-weight="normal" fill="#1a1a1a" stroke="#1a1a1a" stroke-width="0.45" textLength="4.7" lengthAdjust="spacingAndGlyphs">8</text>
<text x="764.25" y="132.1" font-size="9.5" text-anchor="start" font-weight="normal" fill="#1a1a1a" stroke="#1a1a1a" stroke-width="0.45" textLength="4.7" lengthAdjust="spacingAndGlyphs">9</text>
<polyline points="670.8,53.5 675.8,53.5 681.6,65.5" fill="none" stroke="#1a1a1a" stroke-width="0.9" stroke-linejoin="miter"/>
<line x1="643.2" y1="65.6" x2="660" y2="71.8" stroke="#1a1a1a" stroke-width="1.0"/>
<polyline points="749.5,53.5 745.1,53.5 741.2,64.5" fill="none" stroke="#1a1a1a" stroke-width="0.9" stroke-linejoin="miter"/>
<polyline points="648.8,104.5 654.6,104.5 704.4,80.2" fill="none" stroke="#1a1a1a" stroke-width="0.9" stroke-linejoin="miter"/>
<polyline points="647.5,130.5 653.4,130.5 663.6,110" fill="none" stroke="#1a1a1a" stroke-width="0.9" stroke-linejoin="miter"/>
<polyline points="756.3,123.5 751.5,123.5 741.2,110.4" fill="none" stroke="#1a1a1a" stroke-width="0.9" stroke-linejoin="miter"/>
<polygon points="660.3,66.3 743,66.3 743,108 660.3,108" fill="none" stroke="#1a1a1a" stroke-width="1.5" stroke-linejoin="miter"/>
<line x1="660.3" y1="70.4" x2="743" y2="70.4" stroke="#1a1a1a" stroke-width="1.5"/>
<line x1="681.9" y1="66.3" x2="681.9" y2="70.4" stroke="#1a1a1a" stroke-width="1.3"/>
<line x1="724.1" y1="66.3" x2="724.1" y2="70.4" stroke="#1a1a1a" stroke-width="1.3"/>
<polyline points="669.5,70.4 669.5,81 664.5,84.2 664.5,108" fill="none" stroke="#1a1a1a" stroke-width="1.2" stroke-linejoin="miter"/>
<line x1="660.6" y1="70" x2="660.6" y2="108" stroke="#1a1a1a" stroke-width="2.0"/>
<line x1="663.5" y1="73.5" x2="669.4" y2="73.5" stroke="#1a1a1a" stroke-width="1"/>
<line x1="663.5" y1="76.5" x2="669.4" y2="76.5" stroke="#1a1a1a" stroke-width="1"/>
<line x1="663.5" y1="78.5" x2="669.4" y2="78.5" stroke="#1a1a1a" stroke-width="1"/>
<polygon points="695.5,76.5 711.5,76.5 711.5,86.5 695.5,86.5" fill="none" stroke="#1a1a1a" stroke-width="1.1" stroke-linejoin="miter"/>
<line x1="747.5" y1="66.5" x2="791" y2="66.5" stroke="#4d4d4d" stroke-width="0.9"/>
<line x1="746.5" y1="109.5" x2="790.5" y2="109.5" stroke="#4d4d4d" stroke-width="0.9"/>
<line x1="785.5" y1="61.8" x2="785.5" y2="114.5" stroke="#4d4d4d" stroke-width="0.9"/>
<line x1="784.28" y1="68.7" x2="786.9200000000001" y2="64.3" stroke="#1a1a1a" stroke-width="1.3"/>
<line x1="784.28" y1="111.2" x2="786.9200000000001" y2="106.8" stroke="#1a1a1a" stroke-width="1.3"/>
<text x="784.6" y="97.8" font-size="8.8" text-anchor="start" font-weight="normal" fill="#1a1a1a" stroke="#1a1a1a" stroke-width="0.35" textLength="17.5" lengthAdjust="spacingAndGlyphs" transform="rotate(-90 784.6 97.8)">2030</text>
<line x1="742.5" y1="111.5" x2="742.5" y2="131.7" stroke="#777" stroke-width="0.9"/>
<line x1="659.5" y1="119.6" x2="659.5" y2="131.7" stroke="#999" stroke-width="0.9"/>
<line x1="656.7" y1="127.5" x2="748.3" y2="127.5" stroke="#666" stroke-width="0.9"/>
<line x1="658.18" y1="129.2" x2="660.82" y2="124.8" stroke="#1a1a1a" stroke-width="1.3"/>
<line x1="741.0799999999999" y1="129.2" x2="743.72" y2="124.8" stroke="#1a1a1a" stroke-width="1.3"/>
<text x="694.6" y="124.3" font-size="9.3" text-anchor="start" font-weight="normal" fill="#1a1a1a" stroke="#1a1a1a" stroke-width="0.5" textLength="24" lengthAdjust="spacingAndGlyphs">2895</text>
<text x="599.9" y="157.6" font-size="9" text-anchor="start" font-weight="normal" fill="#1a1a1a" stroke="#1a1a1a" stroke-width="0.5" textLength="60.5" lengthAdjust="spacingAndGlyphs">ЦР4л- 29.19.3;</text>
<text x="664.9" y="157.6" font-size="9" text-anchor="start" font-weight="normal" fill="#1a1a1a" stroke="#1a1a1a" stroke-width="0.5" textLength="60.5" lengthAdjust="spacingAndGlyphs">ЦР4л-29.19.35;</text>
<text x="732.2" y="157.6" font-size="9" text-anchor="start" font-weight="normal" fill="#1a1a1a" stroke="#1a1a1a" stroke-width="0.5" textLength="58.5" lengthAdjust="spacingAndGlyphs">ЦР4л-29. 19. 4</text>
<line x1="596" y1="160.5" x2="793.7" y2="160.5" stroke="#1a1a1a" stroke-width="1.5"/>
<ellipse cx="629.7" cy="176.2" rx="10.700000000000001" ry="10.600000000000001" fill="none" stroke="#1a1a1a" stroke-width="1.0"/>
<line x1="618.9000000000001" y1="176.5" x2="640.5" y2="176.5" stroke="#1a1a1a" stroke-width="1.0"/>
<text x="625.5" y="174.2" font-size="9.5" text-anchor="start" font-weight="normal" fill="#1a1a1a" stroke="#1a1a1a" stroke-width="0.45" textLength="9.0" lengthAdjust="spacingAndGlyphs">14</text>
<text x="624.7" y="184.5" font-size="9.5" text-anchor="start" font-weight="normal" fill="#1a1a1a" stroke="#1a1a1a" stroke-width="0.45" textLength="9.0" lengthAdjust="spacingAndGlyphs">12</text>
<ellipse cx="806.4" cy="168.9" rx="10.700000000000001" ry="10.600000000000001" fill="none" stroke="#1a1a1a" stroke-width="1.0"/>
<line x1="795.6" y1="168.5" x2="817.1999999999999" y2="168.5" stroke="#1a1a1a" stroke-width="1.0"/>
<text x="802.1999999999999" y="166.9" font-size="9.5" text-anchor="start" font-weight="normal" fill="#1a1a1a" stroke="#1a1a1a" stroke-width="0.45" textLength="9.0" lengthAdjust="spacingAndGlyphs">7б</text>
<text x="803.55" y="177.20000000000002" font-size="9.5" text-anchor="start" font-weight="normal" fill="#1a1a1a" stroke="#1a1a1a" stroke-width="0.45" textLength="4.7" lengthAdjust="spacingAndGlyphs">8</text>
<ellipse cx="628.6" cy="202.4" rx="10.6" ry="10.5" fill="none" stroke="#1a1a1a" stroke-width="1.0"/>
<line x1="617.9" y1="202.5" x2="639.3000000000001" y2="202.5" stroke="#1a1a1a" stroke-width="1.0"/>
<text x="624.4" y="200.4" font-size="9.5" text-anchor="start" font-weight="normal" fill="#1a1a1a" stroke="#1a1a1a" stroke-width="0.45" textLength="9.0" lengthAdjust="spacingAndGlyphs">1б</text>
<text x="625.75" y="210.70000000000002" font-size="9.5" text-anchor="start" font-weight="normal" fill="#1a1a1a" stroke="#1a1a1a" stroke-width="0.45" textLength="4.7" lengthAdjust="spacingAndGlyphs">5</text>
<ellipse cx="603.5" cy="222" rx="10.700000000000001" ry="10.600000000000001" fill="none" stroke="#1a1a1a" stroke-width="1.0"/>
<line x1="592.7" y1="222.5" x2="614.3" y2="222.5" stroke="#1a1a1a" stroke-width="1.0"/>
<text x="599.3" y="220.0" font-size="9.5" text-anchor="start" font-weight="normal" fill="#1a1a1a" stroke="#1a1a1a" stroke-width="0.45" textLength="9.0" lengthAdjust="spacingAndGlyphs">15</text>
<text x="598.5" y="230.3" font-size="9.5" text-anchor="start" font-weight="normal" fill="#1a1a1a" stroke="#1a1a1a" stroke-width="0.45" textLength="9.0" lengthAdjust="spacingAndGlyphs">13</text>
<ellipse cx="631.9" cy="243" rx="10.700000000000001" ry="10.600000000000001" fill="none" stroke="#1a1a1a" stroke-width="1.0"/>
<line x1="621.1" y1="243.5" x2="642.6999999999999" y2="243.5" stroke="#1a1a1a" stroke-width="1.0"/>
<text x="629.8499999999999" y="241.0" font-size="9.5" text-anchor="start" font-weight="normal" fill="#1a1a1a" stroke="#1a1a1a" stroke-width="0.45" textLength="4.7" lengthAdjust="spacingAndGlyphs">2</text>
<text x="629.05" y="251.3" font-size="9.5" text-anchor="start" font-weight="normal" fill="#1a1a1a" stroke="#1a1a1a" stroke-width="0.45" textLength="4.7" lengthAdjust="spacingAndGlyphs">4</text>
<ellipse cx="769.2" cy="243.7" rx="10.700000000000001" ry="10.600000000000001" fill="none" stroke="#1a1a1a" stroke-width="1.0"/>
<line x1="758.4000000000001" y1="243.5" x2="780.0" y2="243.5" stroke="#1a1a1a" stroke-width="1.0"/>
<text x="767.15" y="241.7" font-size="9.5" text-anchor="start" font-weight="normal" fill="#1a1a1a" stroke="#1a1a1a" stroke-width="0.45" textLength="4.7" lengthAdjust="spacingAndGlyphs">8</text>
<text x="766.35" y="252.0" font-size="9.5" text-anchor="start" font-weight="normal" fill="#1a1a1a" stroke="#1a1a1a" stroke-width="0.45" textLength="4.7" lengthAdjust="spacingAndGlyphs">9</text>
<line x1="640.4" y1="175.5" x2="679.6" y2="175.5" stroke="#1a1a1a" stroke-width="1.3"/>
<polyline points="795.6,168.5 754.7,168.5 742.5,176" fill="none" stroke="#1a1a1a" stroke-width="0.9" stroke-linejoin="miter"/>
<polyline points="639.2,202.5 648.3,202.5 658.5,187.5" fill="none" stroke="#1a1a1a" stroke-width="0.9" stroke-linejoin="miter"/>
<polyline points="614.3,222.5 646.3,222.5 700,190" fill="none" stroke="#1a1a1a" stroke-width="0.9" stroke-linejoin="miter"/>
<polyline points="642.7,243.5 648.9,243.5 659.1,223.6" fill="none" stroke="#1a1a1a" stroke-width="0.9" stroke-linejoin="miter"/>
<polyline points="758.5,244.5 752.1,244.5 743.9,226.6" fill="none" stroke="#1a1a1a" stroke-width="1.2" stroke-linejoin="miter"/>
<polygon points="658.4,176.8 742.4,176.8 742.4,222.2 658.4,222.2" fill="none" stroke="#1a1a1a" stroke-width="1.5" stroke-linejoin="miter"/>
<line x1="658.4" y1="176.8" x2="658.4" y2="222.2" stroke="#1a1a1a" stroke-width="2.0"/>
<line x1="681.5" y1="171" x2="681.5" y2="176.8" stroke="#1a1a1a" stroke-width="1.2"/>
<line x1="724.5" y1="171" x2="724.5" y2="176.8" stroke="#1a1a1a" stroke-width="1.2"/>
<polyline points="667.5,176.8 667.5,189.4 663.5,192 663.5,222.2" fill="none" stroke="#1a1a1a" stroke-width="1.2" stroke-linejoin="miter"/>
<line x1="661" y1="179.5" x2="667.5" y2="179.5" stroke="#1a1a1a" stroke-width="1"/>
<line x1="661" y1="182.5" x2="667.5" y2="182.5" stroke="#1a1a1a" stroke-width="1"/>
<line x1="661" y1="184.5" x2="667.5" y2="184.5" stroke="#1a1a1a" stroke-width="1"/>
<polygon points="695.5,185.5 710.5,185.5 710.5,195.5 695.5,195.5" fill="none" stroke="#1a1a1a" stroke-width="1.1" stroke-linejoin="miter"/>
<line x1="746.8" y1="177.5" x2="790.5" y2="177.5" stroke="#666" stroke-width="0.9"/>
<line x1="746.8" y1="222.5" x2="790" y2="222.5" stroke="#666" stroke-width="0.9"/>
<line x1="786.5" y1="172.4" x2="786.5" y2="228.7" stroke="#777" stroke-width="0.9"/>
<line x1="784.78" y1="179.39999999999998" x2="787.4200000000001" y2="175.0" stroke="#1a1a1a" stroke-width="1.3"/>
<line x1="784.78" y1="224.89999999999998" x2="787.4200000000001" y2="220.5" stroke="#1a1a1a" stroke-width="1.3"/>
<text x="784" y="210.5" font-size="8.5" text-anchor="start" font-weight="normal" fill="#1a1a1a" stroke="#1a1a1a" stroke-width="0.35" textLength="17.5" lengthAdjust="spacingAndGlyphs" transform="rotate(-90 784 210.5)">1900</text>
<line x1="742.5" y1="226.6" x2="742.5" y2="242.7" stroke="#777" stroke-width="0.9"/>
<line x1="659.5" y1="227.4" x2="659.5" y2="243.4" stroke="#777" stroke-width="0.9"/>
<line x1="654" y1="239.5" x2="747.4" y2="239.5" stroke="#555" stroke-width="0.9"/>
<line x1="657.78" y1="242.0" x2="660.4200000000001" y2="237.60000000000002" stroke="#1a1a1a" stroke-width="1.3"/>
<line x1="741.0799999999999" y1="242.0" x2="743.72" y2="237.60000000000002" stroke="#1a1a1a" stroke-width="1.3"/>
<text x="692.9" y="237" font-size="9" text-anchor="start" font-weight="normal" fill="#1a1a1a" stroke="#1a1a1a" stroke-width="0.5" textLength="26.9" lengthAdjust="spacingAndGlyphs">2895</text>
</g>
</svg>
</body></html>
